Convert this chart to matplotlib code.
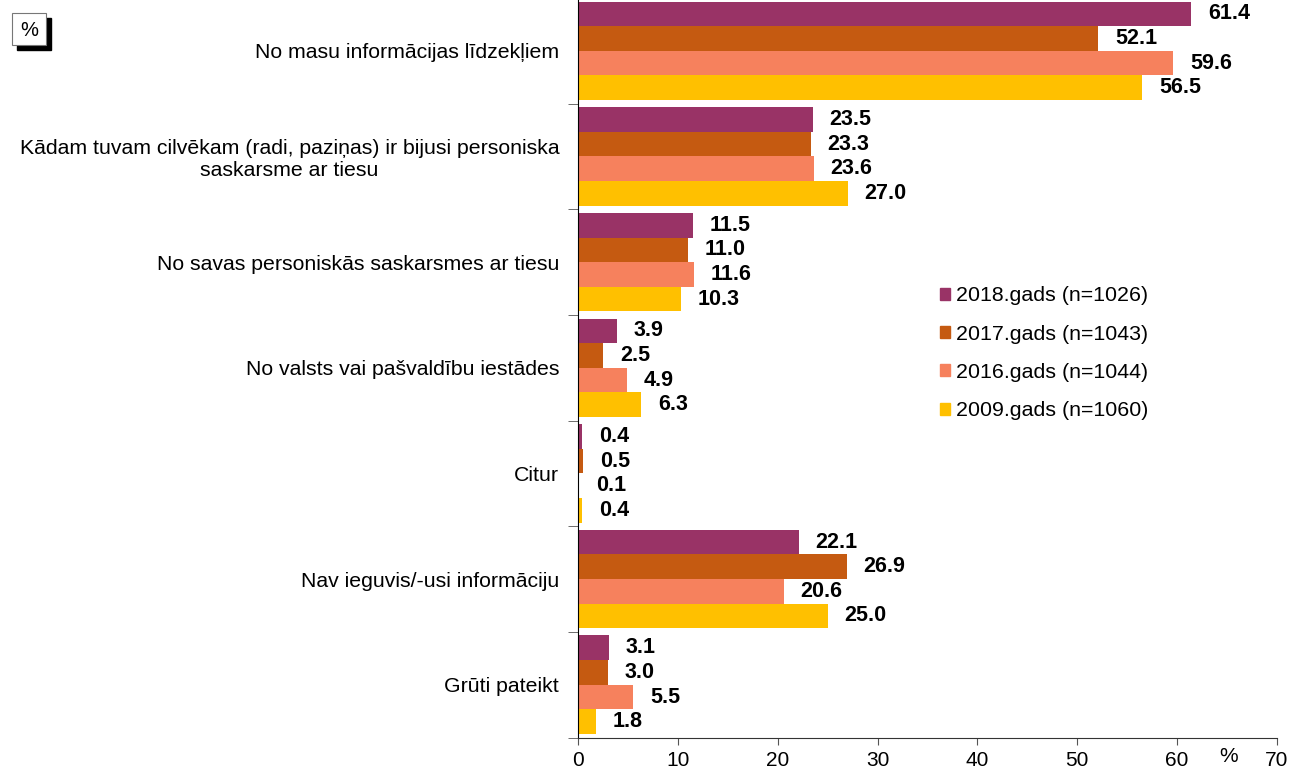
import matplotlib.pyplot as plt
from matplotlib.patches import Patch, Rectangle
from matplotlib.transforms import offset_copy
import numpy as np

plt.rcParams['font.family'] = ['Liberation Sans', 'DejaVu Sans']

categories = [
    'No masu informācijas līdzekļiem',
    'Kādam tuvam cilvēkam (radi, paziņas) ir bijusi personiska\nsaskarsme ar tiesu',
    'No savas personiskās saskarsmes ar tiesu',
    'No valsts vai pašvaldību iestādes',
    'Citur',
    'Nav ieguvis/-usi informāciju',
    'Grūti pateikt',
]
series_names = ['2018.gads (n=1026)', '2017.gads (n=1043)',
                '2016.gads (n=1044)', '2009.gads (n=1060)']
v2018 = [61.4, 23.5, 11.5, 3.9, 0.4, 22.1, 3.1]
v2017 = [52.1, 23.3, 11.0, 2.5, 0.5, 26.9, 3.0]
v2016 = [59.6, 23.6, 11.6, 4.9, 0.1, 20.6, 5.5]
v2009 = [56.5, 27.0, 10.3, 6.3, 0.4, 25.0, 1.8]
colors = ['#993366', '#C55A11', '#F6815D', '#FFC000']

values = [v2018, v2017, v2016, v2009]

fig = plt.figure(figsize=(13.02, 7.71), dpi=100)
ax = fig.add_axes([0.4439, 0.0434, 0.5369, 0.9592])

y = np.arange(len(categories))
h = 0.233
for k, (vals, c, name) in enumerate(zip(values, colors, series_names)):
    pos = y + (k - 1.5) * h
    ax.barh(pos, vals, height=h, color=c, label=name)
    for p, v in zip(pos, vals):
        ax.text(v + 1.7, p, f'{v:.1f}', va='center', ha='left',
                fontsize=15.5, fontweight='bold')

ax.set_xlim(0, 70)
ax.set_ylim(len(categories) - 0.5, -0.5)
ax.set_xticks(np.arange(0, 71, 10))
ax.tick_params(axis='x', labelsize=15, length=5, color='#555555', pad=5)

# подписи категорий и засечки на границах групп
ax.set_yticks(y)
ax.set_yticklabels(categories, fontsize=15.3, multialignment='center')
ax.tick_params(axis='y', which='major', length=0, pad=13.5)
ax.set_yticks(np.arange(-0.5, len(categories)), minor=True)
ax.tick_params(axis='y', which='minor', length=7, color='#555555')

for s in ['top', 'right']:
    ax.spines[s].set_visible(False)
ax.spines['left'].set_color('black')
ax.spines['bottom'].set_color('#333333')

pct_tr = offset_copy(ax.get_xaxis_transform(), fig=fig, x=0, y=-7, units='points')
ax.text(65.1, 0, '%', transform=pct_tr, ha='center', va='top', fontsize=15)

handles = [Patch(color=c) for c in colors]
ax.legend(handles, series_names, loc='upper left', bbox_to_anchor=(0.49, 0.636),
          frameon=False, fontsize=15.4, handlelength=0.5, handleheight=0.5,
          handletextpad=0.25, labelspacing=0.9)

# рамка "%" в левом верхнем углу
fig.patches.append(Rectangle((17 / 1302, 1 - 50 / 771), 34 / 1302, 32 / 771,
                             transform=fig.transFigure, facecolor='black',
                             edgecolor='black'))
fig.patches.append(Rectangle((12 / 1302, 1 - 45 / 771), 34 / 1302, 32 / 771,
                             transform=fig.transFigure, facecolor='white',
                             edgecolor='#777777', linewidth=0.8))
fig.text(29 / 1302, 1 - 30 / 771, '%', ha='center', va='center', fontsize=14.5)

fig.savefig('out.png', dpi=100)
